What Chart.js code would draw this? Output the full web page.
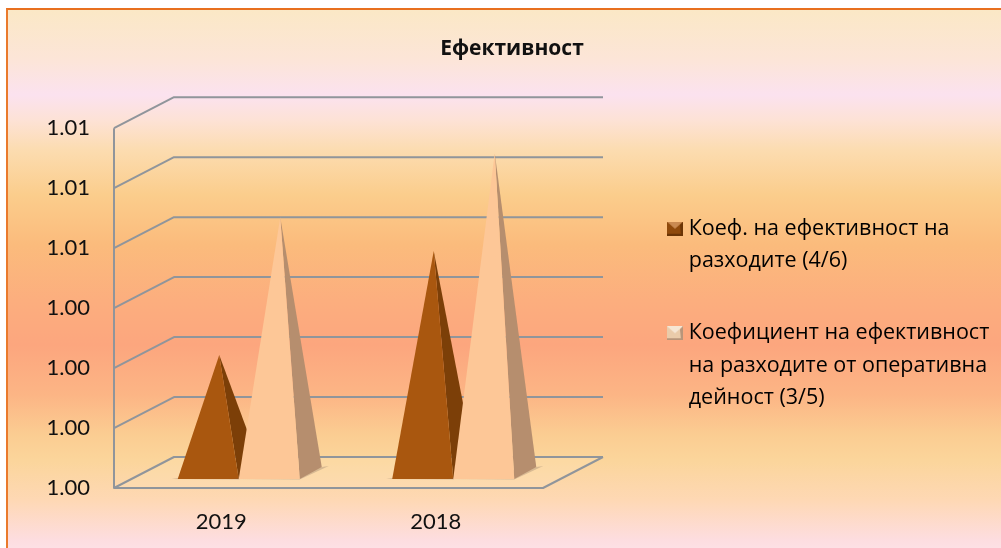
<!DOCTYPE html>
<html>
<head>
<meta charset="utf-8">
<script src="https://cdn.jsdelivr.net/npm/chart.js@4/dist/chart.umd.min.js"></script>
<style>
html,body{margin:0;padding:0;background:#fff;width:1001px;height:548px;overflow:hidden}
#bg{position:absolute;left:6px;top:8px;width:995px;height:540px;box-sizing:border-box;border-left:2px solid #ea7a2c;border-top:2px solid #e8701f;
background:linear-gradient(to bottom,
#fbe8c6 0px,#fce5d8 50px,#fbe2ef 85px,#fde2d6 110px,#fcdcb0 140px,#fbcd8c 185px,#fbbb7c 235px,#fcae7e 290px,#fca67e 335px,#fcb585 385px,#fbcd92 425px,#fbd59b 450px,#fed8b4 490px,#fddde0 530px,#fde1e6 540px)}
canvas{position:absolute;left:0;top:0;display:block}
</style>
</head>
<body>
<div id="bg"></div>
<canvas id="c" width="1001" height="548"></canvas>
<script>
const categories = ['2019', '2018'];
const seriesNames = [
  ['Коеф. на ефективност на', 'разходите (4/6)'],
  ['Коефициент на ефективност', 'на разходите от оперативна', 'дейност (3/5)']
];
const seriesA = [1.00295, 1.00555];
const seriesB = [1.0064, 1.0080];
const yTickLabels = ['1.00', '1.00', '1.00', '1.00', '1.01', '1.01', '1.01'];
const chartTitle = 'Ефективност';

const NUM_FONT = 'Lato, Carlito, sans-serif';
const TEXT_FONT = '"Open Sans", sans-serif';
const WALL = {dx: 60, dy: -31};
const FACES = [
  {front: '#a9570f', side: '#7c3f08', marker: ['#c98a52', '#8f4a0c', '#6b3506']},
  {front: '#fdc797', side: '#b68e6e', marker: ['#f6e6d4', '#eacbaa', '#b8957a']}
];

function marker(cols) {
  const c = document.createElement('canvas');
  c.width = 21; c.height = 14;
  const g = c.getContext('2d');
  const x0 = 5, w = 16, h = 14;
  g.fillStyle = cols[1]; g.fillRect(x0, 0, w, h);
  g.fillStyle = cols[0];
  g.beginPath(); g.moveTo(x0, 0); g.lineTo(x0 + w, 0); g.lineTo(x0 + w / 2, h / 2); g.closePath(); g.fill();
  g.fillStyle = cols[2];
  g.beginPath(); g.moveTo(x0 + w, 0); g.lineTo(x0 + w, h); g.lineTo(x0 + w - 2, h); g.lineTo(x0 + w - 3, 3); g.closePath(); g.fill();
  g.fillRect(x0, h - 2, w, 2);
  return c;
}

const wallPlugin = {
  id: 'wall',
  beforeDatasetsDraw(chart) {
    const {ctx, chartArea: a, scales: {y}} = chart;
    ctx.save();
    ctx.strokeStyle = '#90959b';
    ctx.lineWidth = 2;
    ctx.lineJoin = 'round';
    const ticks = y.ticks;
    ctx.fillStyle = 'rgba(255,232,190,0.22)';
    ctx.beginPath();
    ctx.moveTo(a.left, a.bottom);
    ctx.lineTo(a.right, a.bottom);
    ctx.lineTo(a.right + WALL.dx, a.bottom + WALL.dy);
    ctx.lineTo(a.left + WALL.dx, a.bottom + WALL.dy);
    ctx.closePath();
    ctx.fill();
    ticks.forEach((t, i) => {
      const py = y.getPixelForTick(i);
      ctx.beginPath();
      ctx.moveTo(a.left, py);
      ctx.lineTo(a.left + WALL.dx, py + WALL.dy);
      ctx.lineTo(a.right + WALL.dx, py + WALL.dy);
      ctx.stroke();
    });
    ctx.beginPath();
    ctx.moveTo(a.left, y.getPixelForTick(ticks.length - 1));
    ctx.lineTo(a.left, a.bottom);
    ctx.lineTo(a.right, a.bottom);
    ctx.lineTo(a.right + WALL.dx, a.bottom + WALL.dy);
    ctx.stroke();
    ctx.restore();
  },
  afterDatasetsDraw(chart) {
    const {ctx, chartArea: a} = chart;
    ctx.save();
    chart.data.datasets.forEach((ds, di) => {
      chart.getDatasetMeta(di).data.forEach(bar => {
        const fl = bar.x - bar.width / 2 + 17.5;
        const fr = bar.x + bar.width / 2 + 17.5;
        const fy = a.bottom - 9;
        const apexX = bar.x + 17.5 + 11;
        const apexY = bar.y - 15;
        ctx.fillStyle = 'rgba(120,100,90,0.28)';
        ctx.beginPath();
        ctx.moveTo(fl - 6, fy);
        ctx.lineTo(fr, fy + 0.5);
        ctx.lineTo(fr + 29, fy - 13);
        ctx.lineTo(fr + 22, fy - 12);
        ctx.lineTo(fl, fy - 1);
        ctx.closePath();
        ctx.fill();
        ctx.fillStyle = FACES[di].side;
        ctx.beginPath();
        ctx.moveTo(fr, fy);
        ctx.lineTo(fr + 22, fy - 12);
        ctx.lineTo(apexX, apexY);
        ctx.closePath();
        ctx.fill();
        ctx.fillStyle = FACES[di].front;
        ctx.beginPath();
        ctx.moveTo(fl, fy);
        ctx.lineTo(fr, fy);
        ctx.lineTo(apexX, apexY);
        ctx.closePath();
        ctx.fill();
      });
    });
    ctx.restore();
  },
  afterLayout(chart) {
    const lg = chart.legend, t = chart.titleBlock;
    if (lg) { lg.left = 627; lg.top = 178; lg.right = 1001; lg.bottom = 548; }
    if (t) { t.left = 0; t.right = 1024; }
  }
};

new Chart(document.getElementById('c'), {
  type: 'bar',
  data: {
    labels: categories,
    datasets: [
      {label: seriesNames[0].join(' '), data: seriesA, backgroundColor: 'rgba(0,0,0,0)', borderWidth: 0},
      {label: seriesNames[1].join(' '), data: seriesB, backgroundColor: 'rgba(0,0,0,0)', borderWidth: 0}
    ]
  },
  plugins: [wallPlugin],
  options: {
    responsive: false,
    animation: false,
    devicePixelRatio: 1,
    datasets: {bar: {barPercentage: 1, categoryPercentage: 0.569}},
    layout: {padding: {top: 0, left: 0, bottom: 0, right: 358}},
    scales: {
      x: {
        grid: {display: false, drawTicks: false},
        border: {display: false},
        ticks: {color: '#111', padding: 21, font: {family: NUM_FONT, size: 22}, maxRotation: 0},
        afterFit(s) { s.height = 60; }
      },
      y: {
        min: 1, max: 1.009,
        grid: {display: false, drawTicks: false},
        border: {display: false},
        ticks: {
          stepSize: 0.0015, color: '#111', padding: 24,
          font: {family: NUM_FONT, size: 22},
          callback: (v, i) => yTickLabels[i]
        },
        afterFit(s) { s.width = 114; }
      }
    },
    plugins: {
      tooltip: {enabled: false},
      title: {
        display: true, text: chartTitle, color: '#111',
        font: {family: TEXT_FONT, size: 21, weight: 'bold', lineHeight: 1.2},
        padding: {top: 36, bottom: 67}
      },
      legend: {
        display: true, position: 'right', align: 'start',
        maxWidth: 100,
        labels: {
          color: '#111',
          font: {family: TEXT_FONT, size: 21.5, lineHeight: 1.5},
          padding: 40,
          usePointStyle: true,
          pointStyleWidth: 11,
          boxHeight: 16,
          generateLabels() {
            return seriesNames.map((n, i) => ({
              text: n, fillStyle: FACES[i].front, strokeStyle: FACES[i].front, lineWidth: 0,
              pointStyle: marker(FACES[i].marker), datasetIndex: i, hidden: false
            }));
          }
        }
      }
    }
  }
});
</script>
</body>
</html>
